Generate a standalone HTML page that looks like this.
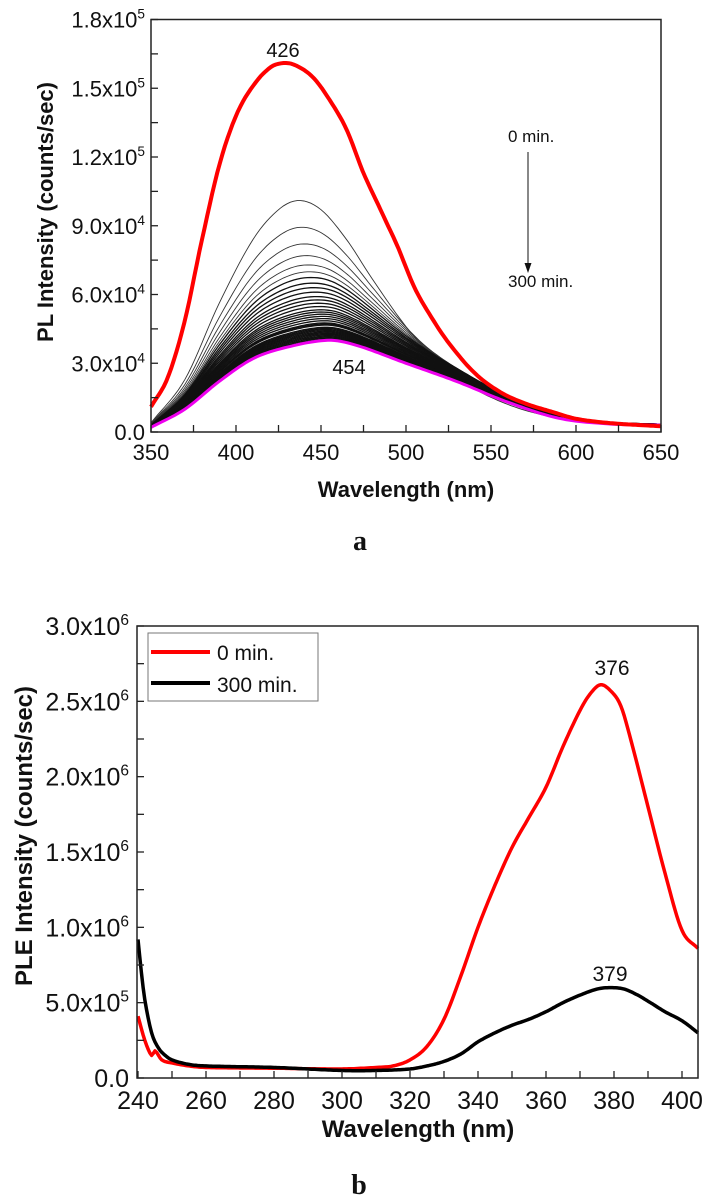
<!DOCTYPE html>
<html><head><meta charset="utf-8"><style>
html,body{margin:0;padding:0;background:#fff;}
svg{display:block;}
text{font-family:"Liberation Sans",Arial,sans-serif;fill:#111;}
</style></head><body>
<svg id="svg" width="710" height="1198" viewBox="0 0 710 1198" xmlns="http://www.w3.org/2000/svg">
<g id="ga"></g>
<g id="gb"></g>
</svg>
<script>
// ---- Chart a data (PL spectra, units of 1e4 counts/sec) ----
const aRedX = [350,360,370,380,390,400,410,420,428,435,445,455,465,475,485,495,505,515,525,540,555,570,585,600,620,650];
const aRedY = [1.1,2.4,4.9,8.4,11.6,13.8,15.1,15.9,16.1,16.0,15.5,14.5,13.2,11.3,9.7,8.1,6.3,5.0,3.9,2.6,1.76,1.25,0.9,0.58,0.39,0.25];
const aShapeX = [350,370,390,410,425,437,450,465,480,500,520,540,560,580,600,620,650];
const aTopGrayY = [0.4,2.3,5.6,8.4,9.7,10.1,9.7,8.4,6.7,4.6,3.0,1.9,1.2,0.75,0.5,0.35,0.2];
const aMagentaX = [350,370,390,410,430,454,470,500,530,560,590,620,650];
const aMagentaY = [0.2,1.0,2.2,3.2,3.7,4.0,3.8,3.0,2.2,1.3,0.6,0.35,0.3];
const aGrayPeaks = [10.1,9.0,8.3,7.8,7.4,7.1,6.85,6.6,6.4,6.2,6.0,5.85,5.7,5.55,5.4,5.3,5.2,5.1,5.0,4.9,4.8,4.75,4.7,4.6,4.55,4.5,4.45,4.4,4.35,4.3,4.25,4.2,4.15,4.1,4.05];
const aXTicks = [350,400,450,500,550,600,650];
const aYTicks = [0,3,6,9,12,15,18];
const aYTickLabels = ["0.0","3.0x10|4","6.0x10|4","9.0x10|4","1.2x10|5","1.5x10|5","1.8x10|5"];

// ---- Chart b data (PLE spectra, units of 1e6 counts/sec) ----
const bRedX = [240,242,244,245,247,250,255,260,280,300,310,315,320,325,330,335,340,345,350,355,360,365,370,373,376,379,382,385,390,395,400,404.7];
const bRedY = [0.41,0.25,0.15,0.18,0.12,0.10,0.08,0.07,0.065,0.06,0.07,0.08,0.12,0.21,0.39,0.68,1.0,1.28,1.53,1.73,1.93,2.2,2.44,2.55,2.61,2.57,2.47,2.24,1.8,1.36,0.98,0.86];
const bBlackX = [240,241,242,244,246,248,250,255,260,280,300,310,320,325,330,335,340,345,350,355,360,365,370,375,379,383,387,390,395,400,404.7];
const bBlackY = [0.92,0.7,0.52,0.3,0.2,0.15,0.12,0.09,0.08,0.07,0.05,0.05,0.06,0.08,0.11,0.16,0.24,0.3,0.35,0.39,0.44,0.5,0.55,0.59,0.6,0.59,0.55,0.51,0.44,0.38,0.3];
const bXTicks = [240,260,280,300,320,340,360,380,400];
const bYTicks = [0,0.5,1.0,1.5,2.0,2.5,3.0];
const bYTickLabels = ["0.0","5.0x10|5","1.0x10|6","1.5x10|6","2.0x10|6","2.5x10|6","3.0x10|6"];

const NS="http://www.w3.org/2000/svg";
function mk(tag, parent, attrs){const e=document.createElementNS(NS,tag);for(const k in attrs)e.setAttribute(k,attrs[k]);parent.appendChild(e);return e;}
// Catmull-Rom interpolation through data points
function interp(xs,ys,x){
  const n=xs.length;if(x<=xs[0])return ys[0];if(x>=xs[n-1])return ys[n-1];
  let i=1;while(x>xs[i])i++;
  const x0=xs[i-1],x1=xs[i],y0=ys[i-1],y1=ys[i];
  const m=(k)=>{const a=Math.max(0,k-1),b=Math.min(n-1,k+1);return (ys[b]-ys[a])/(xs[b]-xs[a]);};
  const h=x1-x0,t=(x-x0)/h,t2=t*t,t3=t2*t;
  return (2*t3-3*t2+1)*y0+(t3-2*t2+t)*h*m(i-1)+(-2*t3+3*t2)*y1+(t3-t2)*h*m(i);
}
function smoothPath(xs,ys,sx,sy,step){
  const pts=[];for(let x=xs[0];x<xs[xs.length-1];x+=step)pts.push(x);pts.push(xs[xs.length-1]);
  return pts.map((x,i)=>(i?'L':'M')+sx(x).toFixed(1)+' '+sy(interp(xs,ys,x)).toFixed(1)).join(' ');
}
function tickLabel(g,x,y,lbl,fs){
  const t=mk('text',g,{x:x,y:y,'text-anchor':'end','font-size':fs});
  
  
  const p=lbl.split('|');
  if(p.length===1){t.textContent=p[0];}
  else{const a=document.createElementNS(NS,'tspan');a.textContent=p[0];t.appendChild(a);
    const b=document.createElementNS(NS,'tspan');b.setAttribute('dy',-fs*0.4);b.setAttribute('font-size',fs*0.62);b.textContent=p[1];t.appendChild(b);}
}

// ================= Chart a =================
(function(){
const g=document.getElementById('ga');
const L=151,R=661,T=19.5,B=432;
const sx=v=>L+(v-350)/(650-350)*(R-L);
const sy=v=>B-v/18*(B-T);
const fs=22;
const grid=[];for(let x=350;x<=650;x+=2)grid.push(x);
const topShape=grid.map(x=>interp(aShapeX,aTopGrayY,x)/10.1);
const lowShape=grid.map(x=>interp(aMagentaX,aMagentaY,x)/4.0);
aGrayPeaks.forEach((pk,i)=>{
  const t=(pk-4.0)/(10.1-4.0);
  const ys=grid.map((x,j)=>pk*(t*topShape[j]+(1-t)*lowShape[j]));
  const d=grid.map((x,j)=>(j?'L':'M')+sx(x).toFixed(1)+' '+sy(ys[j]).toFixed(1)).join(' ');
  const p=mk('path',g,{d:d,fill:'none',stroke:i<6?'#333':'#111','stroke-width':i<6?0.9:1.3});
  
  
});
const mg=mk('path',g,{d:smoothPath(aMagentaX,aMagentaY,sx,sy,2),fill:'none',stroke:'#ee00ee','stroke-width':3});


const rd=mk('path',g,{d:smoothPath(aRedX,aRedY,sx,sy,1.5),fill:'none',stroke:'#ff0000','stroke-width':4,'stroke-linejoin':'round'});


const fr=mk('rect',g,{x:L,y:T,width:R-L,height:B-T,fill:'none',stroke:'#222','stroke-width':1.5});


for(let v=350;v<=650;v+=25){const X=sx(v);mk('line',g,{x1:X,y1:B,x2:X,y2:B-7,stroke:'#222','stroke-width':1.3});}
aXTicks.forEach(v=>{const t=mk('text',g,{x:sx(v),y:B+28,'text-anchor':'middle','font-size':fs});t.textContent=v;
  
  });
for(let v=0;v<=18;v+=1.5){const Y=sy(v);mk('line',g,{x1:L,y1:Y,x2:L+7,y2:Y,stroke:'#222','stroke-width':1.3});}
aYTicks.forEach((v,i)=>tickLabel(g,L-6,sy(v)+8,aYTickLabels[i],fs));
const xt=mk('text',g,{x:(L+R)/2,y:497,'text-anchor':'middle','font-size':22,'font-weight':'bold'});xt.textContent='Wavelength (nm)';


const yt=mk('text',g,{x:0,y:0,'text-anchor':'middle','font-size':22,'font-weight':'bold',transform:'translate(53,212) rotate(-90)'});yt.textContent='PL Intensity (counts/sec)';


const a1=mk('text',g,{x:283,y:57,'text-anchor':'middle','font-size':20});a1.textContent='426';


const a2=mk('text',g,{x:349,y:374,'text-anchor':'middle','font-size':20});a2.textContent='454';


const t0=mk('text',g,{x:508,y:142,'font-size':17});t0.textContent='0 min.';


const t3=mk('text',g,{x:508,y:287,'font-size':17});t3.textContent='300 min.';


const ar=mk('line',g,{x1:528,y1:152,x2:528,y2:265,stroke:'#111','stroke-width':1});


mk('path',g,{d:'M524.5 263 L531.5 263 L528 273 Z',fill:'#111'});
const pa=mk('text',g,{x:360,y:550,'text-anchor':'middle','font-size':28,'font-weight':'bold',style:'font-family:"Liberation Serif",serif'});pa.textContent='a';


})();

// ================= Chart b =================
(function(){
const g=document.getElementById('gb');
const L=137,R=698,T=626,B=1078;
const sx=v=>L+1+(v-240)*3.4;
const sy=v=>B-v/3*(B-T);
const fs=25;
const rd=mk('path',g,{d:smoothPath(bRedX,bRedY,sx,sy,0.5),fill:'none',stroke:'#ff0000','stroke-width':3.5,'stroke-linejoin':'round'});


const bk=mk('path',g,{d:smoothPath(bBlackX,bBlackY,sx,sy,0.5),fill:'none',stroke:'#000','stroke-width':3.5,'stroke-linejoin':'round'});


const fr=mk('rect',g,{x:L,y:T,width:R-L,height:B-T,fill:'none',stroke:'#222','stroke-width':1.5});


for(let v=240;v<=404;v+=10){const X=sx(v);mk('line',g,{x1:X,y1:B,x2:X,y2:B-7,stroke:'#222','stroke-width':1.3});}
bXTicks.forEach(v=>{const t=mk('text',g,{x:sx(v),y:B+31,'text-anchor':'middle','font-size':fs});t.textContent=v;
  
  });
for(let v=0;v<=3.0001;v+=0.25){const Y=sy(v);mk('line',g,{x1:L,y1:Y,x2:L+7,y2:Y,stroke:'#222','stroke-width':1.3});}
bYTicks.forEach((v,i)=>tickLabel(g,L-8,sy(v)+9,bYTickLabels[i],fs));
const xt=mk('text',g,{x:418,y:1137,'text-anchor':'middle','font-size':24,'font-weight':'bold'});xt.textContent='Wavelength (nm)';


const yt=mk('text',g,{x:0,y:0,'text-anchor':'middle','font-size':24,'font-weight':'bold',transform:'translate(32,836) rotate(-90)'});yt.textContent='PLE Intensity (counts/sec)';


const lg=mk('rect',g,{x:148,y:633,width:170,height:68,fill:'#fff',stroke:'#777','stroke-width':1});


mk('line',g,{x1:151,y1:652,x2:210,y2:652,stroke:'#ff0000','stroke-width':4});
mk('line',g,{x1:151,y1:683,x2:210,y2:683,stroke:'#000','stroke-width':4});
const l1=mk('text',g,{x:217,y:660,'font-size':21});l1.textContent='0 min.';


const l2=mk('text',g,{x:217,y:692,'font-size':21});l2.textContent='300 min.';


const p1=mk('text',g,{x:612,y:675,'text-anchor':'middle','font-size':21});p1.textContent='376';


const p2=mk('text',g,{x:610,y:981,'text-anchor':'middle','font-size':21});p2.textContent='379';


const pb=mk('text',g,{x:359,y:1194,'text-anchor':'middle','font-size':28,'font-weight':'bold',style:'font-family:"Liberation Serif",serif'});pb.textContent='b';


})();
</script>
</body></html>
